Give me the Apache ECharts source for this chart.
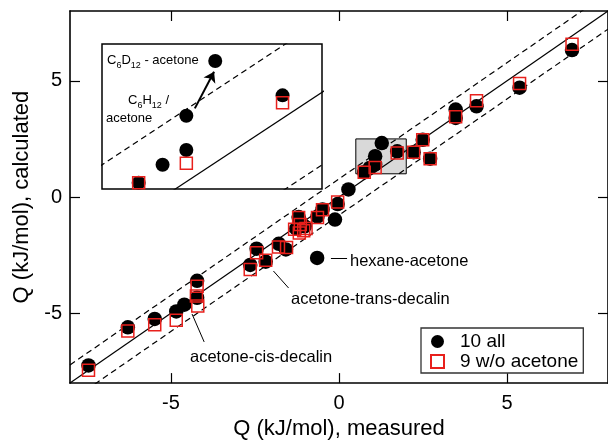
<!DOCTYPE html>
<html>
<head>
<meta charset="utf-8">
<script src="https://cdn.jsdelivr.net/npm/echarts@6/dist/echarts.min.js"></script>
<style>html,body{margin:0;padding:0;background:#fff}#chart{width:608px;height:445px}</style>
</head>
<body>
<div id="chart"></div>
<script>
var FONT = '"Liberation Sans", Arial, sans-serif';

// axis setup
var axisRange = [-8, 8];
var xTicks = [-5, 0, 5];
var yTicks = [-5, 0, 5];
var bandWidth = 0.78;               // dashed lines at y = x +/- bandWidth
var zoomBoxX = [0.5, 2];
var zoomBoxY = [1, 2.5];

// "10 all"
var measuredAll   = [-7.45, -6.28, -5.48, -4.84, -4.60, -4.22, -4.22, -2.64, -2.45, -2.18, -1.79, -1.58,
                     -1.20, -1.27, -1.02, -0.64, -0.49, -0.12, -0.04, 0.28, 0.75, 0.913, 1.075, 1.075,
                     1.272, 1.731, 2.22, 2.49, 2.71, 3.47, 3.47, 4.09, 5.37, 6.93, -0.65];
var calculatedAll = [-7.24, -5.60, -5.24, -4.92, -4.63, -3.60, -4.33, -2.92, -2.22, -2.78, -2.01, -2.25,
                     -0.86, -1.36, -1.26, -0.84, -0.53, -0.97, -0.30, 0.33, 1.065, 1.251, 1.403, 1.758,
                     2.324, 1.969, 1.93, 2.46, 1.65, 3.76, 3.40, 3.90, 4.70, 6.32, -2.62];

// "9 w/o acetone"
var measuredNoAc   = [-7.45, -6.28, -5.48, -4.84, -4.22, -4.24, -4.20, -2.64, -2.45, -2.18, -1.80, -1.56,
                      -1.20, -1.32, -1.18, -1.05, -0.98, -1.15, -0.64, -0.49, -0.04, 0.75, 1.075, 1.731,
                      2.22, 2.49, 2.71, 3.47, 4.09, 5.37, 6.93];
var calculatedNoAc = [-7.45, -5.76, -5.49, -5.30, -3.84, -4.26, -4.68, -3.12, -2.40, -2.72, -2.15, -2.17,
                      -0.88, -1.38, -1.55, -1.45, -1.35, -1.18, -0.88, -0.55, -0.21, 1.065, 1.266, 1.892,
                      1.93, 2.46, 1.65, 3.45, 4.14, 4.88, 6.57];

// leader lines / arrow, in data units
var hexaneLeader = [[-0.24, -2.62], [0.24, -2.62]];
var transLeader  = [[-1.95, -3.18], [-1.50, -3.91]];
var cisLeader    = [[-4.37, -5.03], [-4.01, -6.23]];
var insetArrow   = [[1.133, 1.834], [1.264, 2.213]];

function zip(xs, ys) {
    var out = [];
    for (var i = 0; i < xs.length; i++) out.push([xs[i], ys[i]]);
    return out;
}
function diag(off) {
    return [[axisRange[0], axisRange[0] + off], [axisRange[1], axisRange[1] + off]];
}
function seg(p) {
    return [{coord: p[0]}, {coord: p[1]}];
}

var allPts = zip(measuredAll, calculatedAll);
var noAcPts = zip(measuredNoAc, calculatedNoAc);

var frameAxis = {
    min: axisRange[0], max: axisRange[1],
    axisLine: {onZero: false, lineStyle: {color: '#000', width: 1.6}},
    axisTick: {inside: true, length: 10, lineStyle: {color: '#000', width: 1.2}},
    splitLine: {show: false}
};

function mainAxis(pos, ticks, name, gap, showLabel, margin) {
    return Object.assign({}, frameAxis, {
        type: 'value', gridIndex: 0, position: pos,
        axisTick: Object.assign({}, frameAxis.axisTick, {customValues: ticks}),
        axisLabel: {show: showLabel, customValues: ticks, fontSize: 20, color: '#000', fontFamily: FONT, margin: margin},
        name: name, nameLocation: 'middle', nameGap: gap,
        nameTextStyle: {fontSize: 22, color: '#000', fontFamily: FONT}
    });
}

var lineBase = {type: 'line', symbol: 'none', silent: true, clip: true};
var solid = {color: '#000', width: 1.2};
var dashed = {color: '#000', width: 1.2, type: [6, 4]};
var dotStyle = {color: '#000', opacity: 1};
var boxStyle = {color: 'rgba(0,0,0,0)', borderColor: '#e8201c', borderWidth: 1.5, opacity: 1};

var chart = echarts.init(document.getElementById('chart'));
chart.setOption({
    animation: false,
    backgroundColor: '#fff',
    textStyle: {fontFamily: FONT},
    grid: [
        {left: 70, top: 11, width: 542, height: 379},
        {left: 102, top: 44, width: 220, height: 145, show: true,
         backgroundColor: '#fff', borderColor: '#000', borderWidth: 1.5}
    ],
    xAxis: [
        mainAxis('bottom', xTicks, 'Q (kJ/mol), measured', 34, true, 10),
        mainAxis('top', xTicks, '', 0, false, 0),
        {type: 'value', gridIndex: 1, min: zoomBoxX[0], max: zoomBoxX[1], show: false}
    ],
    yAxis: [
        mainAxis('left', yTicks, 'Q (kJ/mol), calculated', 34, true, 8),
        mainAxis('right', yTicks, '', 0, false, 0),
        {type: 'value', gridIndex: 1, min: zoomBoxY[0], max: zoomBoxY[1], show: false}
    ],
    legend: {
        data: [{name: '10 all', icon: 'circle'}, {name: '9 w/o acetone', icon: 'rect'}],
        orient: 'vertical', left: 421, top: 328,
        padding: [4, 5, 2, 9],
        itemWidth: 13, itemHeight: 13, itemGap: 1,
        borderColor: '#333', borderWidth: 1.3, backgroundColor: '#fff',
        textStyle: {fontSize: 19, color: '#000', fontFamily: FONT, padding: [0, 0, 0, 11]}
    },
    series: [
        Object.assign({}, lineBase, {
            data: diag(0), lineStyle: solid, z: 1,
            markArea: {
                silent: true,
                itemStyle: {color: '#d9d9d9', borderColor: '#000', borderWidth: 1},
                data: [[{coord: [zoomBoxX[0], zoomBoxY[0]]}, {coord: [zoomBoxX[1], zoomBoxY[1]]}]]
            },
            markLine: {
                silent: true, symbol: 'none', label: {show: false},
                lineStyle: {color: '#000', width: 1, type: 'solid'},
                data: [seg(hexaneLeader), seg(transLeader), seg(cisLeader)]
            }
        }),
        Object.assign({}, lineBase, {data: diag(bandWidth), lineStyle: dashed, z: 1}),
        Object.assign({}, lineBase, {data: diag(-bandWidth), lineStyle: dashed, z: 1}),
        {
            name: '10 all', type: 'scatter', data: allPts, symbolSize: 14.5,
            itemStyle: dotStyle, z: 3
        },
        {
            name: '9 w/o acetone', type: 'scatter', data: noAcPts, symbol: 'rect', symbolSize: 12,
            itemStyle: boxStyle, z: 4
        },
        // inset
        Object.assign({}, lineBase, {xAxisIndex: 2, yAxisIndex: 2, data: diag(0), lineStyle: solid}),
        Object.assign({}, lineBase, {xAxisIndex: 2, yAxisIndex: 2, data: diag(0.75), lineStyle: dashed}),
        Object.assign({}, lineBase, {xAxisIndex: 2, yAxisIndex: 2, data: diag(-0.75), lineStyle: dashed}),
        {
            name: 'inset all', type: 'scatter', xAxisIndex: 2, yAxisIndex: 2, clip: true,
            data: allPts, symbolSize: 14, itemStyle: dotStyle, z: 3,
            markLine: {
                silent: true, symbol: ['none', 'arrow'], symbolSize: 10, label: {show: false},
                lineStyle: {color: '#000', width: 2, type: 'solid'},
                data: [seg(insetArrow)]
            }
        },
        {
            name: 'inset w/o', type: 'scatter', xAxisIndex: 2, yAxisIndex: 2, clip: true,
            data: noAcPts, symbol: 'rect', symbolSize: 12, itemStyle: boxStyle, z: 4
        }
    ],
    graphic: [
        {type: 'text', left: 350, top: 253, style: {text: 'hexane-acetone', fill: '#000', font: '16.5px ' + FONT}},
        {type: 'text', left: 291, top: 291, style: {text: 'acetone-trans-decalin', fill: '#000', font: '16.5px ' + FONT}},
        {type: 'text', left: 190, top: 349, style: {text: 'acetone-cis-decalin', fill: '#000', font: '16.5px ' + FONT}},
        {type: 'text', left: 107, top: 53, z: 10, style: {
            text: '{n|C}{s|6}{n|D}{s|12}{n| - acetone}',
            rich: {n: {fontSize: 13, fontFamily: FONT, fill: '#000', lineHeight: 16, verticalAlign: 'top'},
                   s: {fontSize: 9, fontFamily: FONT, fill: '#000', lineHeight: 16, verticalAlign: 'bottom', padding: [8, 0, 0, 0]}}
        }},
        {type: 'text', left: 128, top: 93, z: 10, style: {
            text: '{n|C}{s|6}{n|H}{s|12}{n| /}',
            rich: {n: {fontSize: 13, fontFamily: FONT, fill: '#000', lineHeight: 16, verticalAlign: 'top'},
                   s: {fontSize: 9, fontFamily: FONT, fill: '#000', lineHeight: 16, verticalAlign: 'bottom', padding: [8, 0, 0, 0]}}
        }},
        {type: 'text', left: 106, top: 112, z: 10, style: {text: 'acetone', fill: '#000', font: '13px ' + FONT}}
    ]
});
</script>
</body>
</html>
